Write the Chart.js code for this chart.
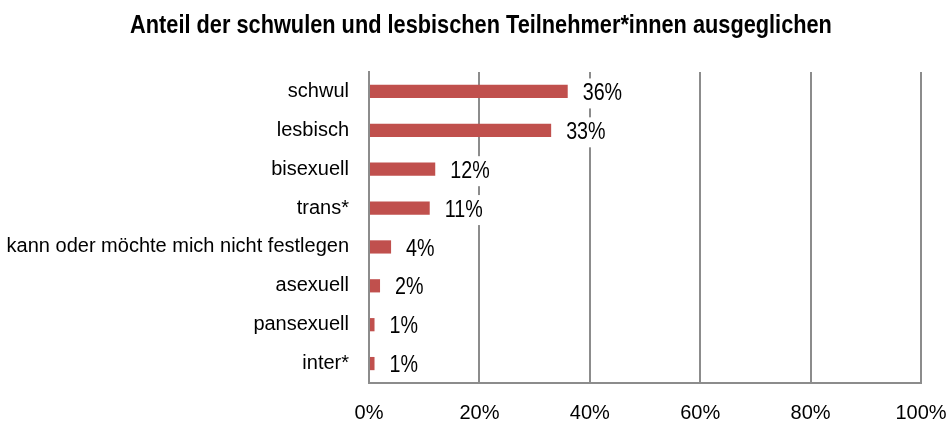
<!DOCTYPE html>
<html>
<head>
<meta charset="utf-8">
<script src="https://cdn.jsdelivr.net/npm/chart.js@4"></script>
<style>
  html, body { margin: 0; padding: 0; background: #fff; }
  #wrap { width: 947px; height: 421px; position: relative; }
</style>
</head>
<body>
<div id="wrap"><canvas id="chart"></canvas></div>
<script>
// chart data
const categories = ['schwul', 'lesbisch', 'bisexuell', 'trans*', 'kann oder möchte mich nicht festlegen', 'asexuell', 'pansexuell', 'inter*'];
const shares = [36, 33, 12, 11, 4, 2, 1, 1];
const tickValues = [0, 20, 40, 60, 80, 100];
const titleText = 'Anteil der schwulen und lesbischen Teilnehmer*innen ausgeglichen';

const SANS = '"Liberation Sans", Arial, sans-serif';

// title drawn condensed (no narrow font installed)
const condensedTitle = {
    id: 'condensedTitle',
    afterDraw(chart) {
        const ctx = chart.ctx;
        ctx.save();
        ctx.font = 'bold 25px ' + SANS;
        ctx.fillStyle = '#000';
        ctx.textAlign = 'center';
        ctx.textBaseline = 'alphabetic';
        ctx.translate(481, 33);
        ctx.scale(0.87, 1);
        ctx.fillText(titleText, 0, 0);
        ctx.restore();
    }
};

// value labels with a white box behind them (covers the grid lines)
const valueLabels = {
    id: 'valueLabels',
    afterDatasetsDraw(chart) {
        const ctx = chart.ctx;
        const meta = chart.getDatasetMeta(0);
        const sx = 0.82;
        ctx.save();
        ctx.font = '24px ' + SANS;
        ctx.textBaseline = 'middle';
        ctx.textAlign = 'left';
        meta.data.forEach((bar, i) => {
            const text = shares[i] + '%';
            const w = ctx.measureText(text).width * sx;
            const x = bar.x + 15;
            const y = bar.y + 2;
            ctx.fillStyle = '#fff';
            ctx.fillRect(x - 4, y - 15, w + 8, 30);
            ctx.fillStyle = '#000';
            ctx.save();
            ctx.translate(x, y);
            ctx.scale(sx, 1);
            ctx.fillText(text, 0, 0);
            ctx.restore();
        });
        ctx.restore();
    }
};

new Chart(document.getElementById('chart'), {
    type: 'bar',
    data: {
        labels: categories,
        datasets: [{
            data: shares,
            backgroundColor: '#C0504D',
            borderWidth: 0,
            barPercentage: 0.34,
            categoryPercentage: 1
        }]
    },
    options: {
        indexAxis: 'y',
        responsive: true,
        maintainAspectRatio: false,
        animation: false,
        layout: {
            padding: { left: 0, right: 26, top: 72, bottom: 0 }
        },
        plugins: {
            legend: { display: false },
            tooltip: { enabled: false },
            title: { display: false }
        },
        scales: {
            x: {
                min: 0,
                max: 100,
                afterBuildTicks(scale) {
                    scale.ticks = tickValues.map(v => ({ value: v }));
                },
                afterFit(scale) {
                    scale.height = 38;
                    scale.paddingLeft = 0;
                    scale.paddingRight = 0;
                },
                grid: {
                    color: '#8c8c8c',
                    lineWidth: 2,
                    drawTicks: false
                },
                border: { color: '#8c8c8c', width: 2 },
                ticks: {
                    color: '#000',
                    padding: 18,
                    maxRotation: 0,
                    minRotation: 0,
                    font: { family: SANS, size: 20 },
                    callback: v => v + '%'
                }
            },
            y: {
                afterFit(scale) {
                    scale.width = 369;
                    scale.paddingTop = 0;
                    scale.paddingBottom = 0;
                },
                grid: { display: false, drawTicks: false },
                border: { color: '#8c8c8c', width: 2 },
                ticks: {
                    color: '#000',
                    padding: 20,
                    font: { family: SANS, size: 20 }
                }
            }
        }
    },
    plugins: [valueLabels, condensedTitle]
});
</script>
</body>
</html>
